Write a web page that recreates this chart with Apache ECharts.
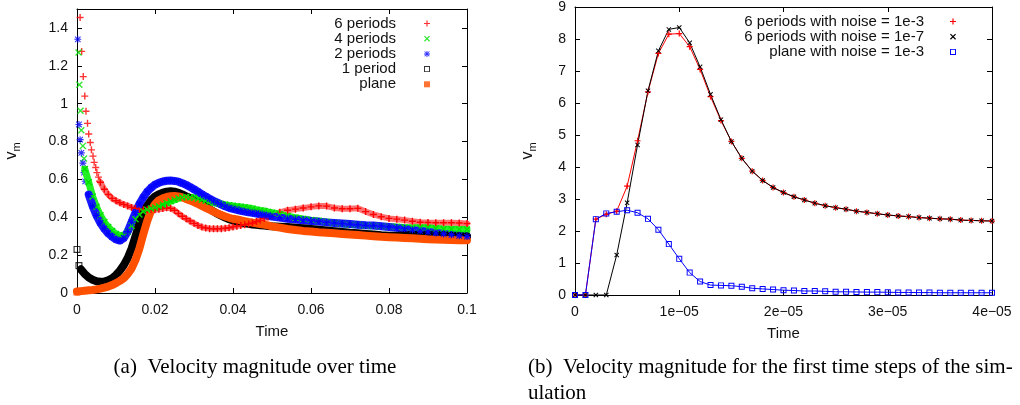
<!DOCTYPE html>
<html>
<head>
<meta charset="utf-8">
<script src="https://cdn.jsdelivr.net/npm/echarts@6/dist/echarts.min.js"></script>
<style>
html,body{margin:0;padding:0;background:#fff;}
#chart{width:1020px;height:405px;}
</style>
</head>
<body>
<div id="chart"></div>
<script>
// ---------- (a) Velocity magnitude over time ----------
const timeA = [0,0.001,0.002,0.003,0.004,0.005,0.006,0.007,0.008,0.009,0.01,0.011,0.012,0.013,0.014,0.015,0.016,0.017,0.018,0.019,0.02,0.021,0.022,0.023,0.024,0.025,0.026,0.027,0.028,0.029,0.03,0.031,0.032,0.033,0.034,0.035,0.036,0.037,0.038,0.039,0.04,0.041,0.042,0.043,0.044,0.045,0.046,0.047,0.048,0.049,0.05,0.052,0.054,0.056,0.058,0.06,0.062,0.064,0.066,0.068,0.07,0.072,0.074,0.076,0.078,0.08,0.082,0.084,0.086,0.088,0.09,0.092,0.094,0.096,0.098,0.1];

const p6Band = [null,null,null,null,null,null,0.585,0.548,0.52,0.5,0.487,0.477,0.468,0.46,0.452,0.447,0.443,0.44,0.44,0.44,0.44,0.442,0.446,0.45,0.447,0.437,0.42,0.405,0.392,0.38,0.368,0.357,0.348,0.343,0.34,0.339,0.339,0.34,0.342,0.345,0.349,0.353,0.357,0.361,0.365,0.37,0.377,0.385,0.394,0.402,0.41,0.426,0.437,0.443,0.449,0.455,0.46,0.459,0.449,0.445,0.445,0.447,0.43,0.415,0.403,0.394,0.39,0.385,0.379,0.374,0.372,0.371,0.371,0.371,0.37,0.367];
const p4Band = [null,null,0.655,0.585,0.51,0.455,0.41,0.375,0.348,0.328,0.312,0.302,0.305,0.323,0.355,0.39,0.415,0.43,0.44,0.446,0.452,0.458,0.466,0.475,0.485,0.492,0.5,0.505,0.507,0.506,0.503,0.498,0.492,0.487,0.482,0.478,0.474,0.47,0.466,0.463,0.46,0.457,0.455,0.452,0.449,0.445,0.44,0.436,0.433,0.428,0.424,0.416,0.405,0.398,0.391,0.385,0.38,0.375,0.37,0.366,0.362,0.36,0.357,0.355,0.352,0.35,0.348,0.346,0.345,0.345,0.344,0.341,0.338,0.337,0.336,0.335];
const p2Band = [null,null,null,0.52,0.46,0.41,0.37,0.34,0.315,0.297,0.283,0.277,0.29,0.325,0.375,0.425,0.47,0.505,0.535,0.556,0.572,0.582,0.589,0.593,0.594,0.592,0.588,0.58,0.571,0.56,0.548,0.535,0.522,0.51,0.498,0.487,0.477,0.467,0.458,0.45,0.444,0.439,0.434,0.43,0.426,0.423,0.42,0.416,0.412,0.408,0.404,0.398,0.392,0.388,0.384,0.38,0.377,0.373,0.37,0.367,0.364,0.361,0.358,0.356,0.353,0.349,0.344,0.339,0.333,0.327,0.322,0.317,0.312,0.307,0.302,0.298];
const p1Band = [null,0.125,0.1,0.082,0.07,0.062,0.059,0.06,0.067,0.078,0.095,0.118,0.147,0.185,0.235,0.3,0.365,0.42,0.46,0.49,0.51,0.522,0.53,0.535,0.537,0.535,0.529,0.521,0.511,0.5,0.489,0.478,0.467,0.455,0.443,0.431,0.419,0.408,0.398,0.39,0.383,0.378,0.373,0.369,0.365,0.362,0.36,0.358,0.356,0.354,0.352,0.35,0.348,0.345,0.342,0.338,0.334,0.33,0.326,0.322,0.318,0.315,0.312,0.309,0.305,0.303,0.303,0.305,0.307,0.308,0.308,0.307,0.305,0.303,0.3,0.298];
const planeBand = [0.008,0.01,0.012,0.014,0.016,0.019,0.023,0.028,0.034,0.042,0.052,0.064,0.078,0.1,0.13,0.175,0.235,0.31,0.38,0.435,0.47,0.49,0.5,0.507,0.511,0.512,0.51,0.505,0.497,0.489,0.48,0.47,0.46,0.45,0.44,0.43,0.421,0.412,0.404,0.397,0.392,0.388,0.384,0.379,0.375,0.372,0.368,0.364,0.361,0.357,0.352,0.345,0.338,0.333,0.328,0.325,0.321,0.318,0.315,0.312,0.309,0.306,0.303,0.3,0.297,0.295,0.293,0.291,0.289,0.287,0.284,0.282,0.281,0.28,0.279,0.279];

// first (well separated) samples: [time, value]
const p6Early = [[0.0008,1.455],[0.0012,1.276],[0.0016,1.143],[0.002,1.04],[0.0023,0.96],[0.0027,0.896],[0.003,0.84],[0.0034,0.795],[0.0037,0.756],[0.0041,0.723],[0.0044,0.69],[0.0048,0.663],[0.0051,0.636],[0.0055,0.612],[0.0058,0.59]];
const p4Early = [[0.0004,1.27],[0.0006,1.10],[0.0009,0.963],[0.0011,0.86],[0.0015,0.777],[0.0018,0.71]];
const p2Early = [[0.0002,1.34],[0.0005,0.89],[0.0008,0.81],[0.0011,0.74],[0.0015,0.686],[0.0018,0.636],[0.0021,0.59]];
const p1Early = [[0,0.23],[0.0005,0.145]];
const planeEarly = [[0,0.005]];

// ---------- (b) first time steps ----------
const timeB = [0,1e-6,2e-6,3e-6,4e-6,5e-6,6e-6,7e-6,8e-6,9e-6,10e-6,11e-6,12e-6,13e-6,14e-6,15e-6,16e-6,17e-6,18e-6,19e-6,20e-6,21e-6,22e-6,23e-6,24e-6,25e-6,26e-6,27e-6,28e-6,29e-6,30e-6,31e-6,32e-6,33e-6,34e-6,35e-6,36e-6,37e-6,38e-6,39e-6,40e-6];
const noise3 = [0,0,2.37,2.52,2.62,3.4,4.82,6.35,7.55,8.15,8.17,7.76,7.05,6.2,5.45,4.8,4.27,3.87,3.58,3.36,3.2,3.07,2.97,2.87,2.79,2.73,2.68,2.62,2.58,2.54,2.5,2.47,2.45,2.42,2.4,2.38,2.37,2.34,2.33,2.32,2.31];
const noise7 = [0,0,0,0,1.25,2.88,4.69,6.38,7.63,8.3,8.36,7.88,7.13,6.27,5.48,4.8,4.27,3.87,3.58,3.36,3.2,3.07,2.97,2.87,2.79,2.73,2.68,2.62,2.58,2.54,2.5,2.47,2.45,2.42,2.4,2.38,2.37,2.34,2.33,2.32,2.31];
const planeNoise3 = [0,0,2.37,2.55,2.6,2.65,2.57,2.38,2.04,1.59,1.13,0.7,0.42,0.31,0.3,0.29,0.26,0.21,0.19,0.17,0.15,0.14,0.125,0.125,0.115,0.1,0.1,0.095,0.09,0.09,0.085,0.08,0.08,0.075,0.075,0.07,0.07,0.07,0.07,0.07,0.07];

const namesA = ['6 periods','4 periods','2 periods','1 period','plane'];
const namesB = ['6 periods with noise = 1e-3','6 periods with noise = 1e-7','plane with noise = 1e-3'];
const ticksA_y = ['0','0.2','0.4','0.6','0.8','1','1.2','1.4'];
const captionA = '(a)  Velocity magnitude over time';
const captionB1 = '(b)  Velocity magnitude for the first time steps of the sim-';
const captionB2 = 'ulation';

// ---------- styling helpers ----------
const PLUS = 'path://M0,4L10,4L10,6L0,6Z M4,0L6,0L6,10L4,10Z';
const CROSS = 'path://M0,1.4L1.4,0L10,8.6L8.6,10Z M8.6,0L10,1.4L1.4,10L0,8.6Z';
const STAR = 'path://M0,4.2L10,4.2L10,5.8L0,5.8Z M4.2,0L5.8,0L5.8,10L4.2,10Z M0.5,1.6L1.6,0.5L9.5,8.4L8.4,9.5Z M8.4,0.5L9.5,1.6L1.6,9.5L0.5,8.4Z';
const OSQ = 'path://M0,0L10,0L10,10L0,10Z M1.6,1.6L1.6,8.4L8.4,8.4L8.4,1.6Z';
const FSQ = 'path://M0,0L10,0L10,10L0,10Z';

const colRed = '#ff0000', colGreen = '#00e000', colBlue = '#0000ff', colBlack = '#000000', colOrange = '#ff5000';

const pair = (ts, vs) => ts.map((t, i) => [t, vs[i]]);
const font = '"Liberation Sans", Arial, Helvetica, sans-serif';
const serif = '"Liberation Serif", "Times New Roman", serif';

function frameAxes(gridIndex, min, max, interval, isX, pos, labelFmt, nameTxt, nameGap) {
  return {
    type: 'value', gridIndex, min, max, interval, position: pos,
    axisLine: { show: true, onZero: false, lineStyle: { color: '#000', width: 1 } },
    axisTick: { show: true, inside: true, length: 5, lineStyle: { color: '#000' } },
    splitLine: { show: false },
    axisLabel: labelFmt ? { show: true, fontFamily: font, fontSize: 14, color: '#111', margin: isX ? 10 : 9, formatter: labelFmt, showMaxLabel: true } : { show: false },
    name: nameTxt || '', nameLocation: 'middle', nameGap: nameGap || 0,
    nameTextStyle: isX ? { fontFamily: font, fontSize: 15, color: '#111' } : {
      fontFamily: font, color: '#111',
      rich: { v: { fontFamily: font, fontSize: 16, lineHeight: 20, verticalAlign: 'middle', color: '#111' },
              m: { fontFamily: font, fontSize: 11, lineHeight: 20, verticalAlign: 'bottom', color: '#111' } }
    }
  };
}

const fmtA_x = v => String(+v.toFixed(3));
const fmtA_y = v => { const k = Math.round(v / 0.2); return Math.abs(v - k * 0.2) < 1e-9 && k < ticksA_y.length ? ticksA_y[k] : ''; };
const fmtB_x = v => { if (Math.abs(v) < 1e-12) return '0'; const k = Math.round(v / 1e-5); return k + 'e\u221205'; };
const fmtB_y = v => String(Math.round(v));

const option = {
  animation: false,
  backgroundColor: '#fff',
  grid: [
    { left: 77, top: 9, width: 390, height: 284, containLabel: false },
    { left: 575, top: 7, width: 417, height: 288, containLabel: false }
  ],
  xAxis: [
    frameAxes(0, 0, 0.1, 0.02, true, 'bottom', fmtA_x, 'Time', 31),
    frameAxes(0, 0, 0.1, 0.02, true, 'top', null),
    frameAxes(1, 0, 4e-5, 1e-5, true, 'bottom', fmtB_x, 'Time', 31),
    frameAxes(1, 0, 4e-5, 1e-5, true, 'top', null)
  ],
  yAxis: [
    frameAxes(0, 0, 1.5, 0.2, false, 'left', fmtA_y, '{v|v}{m|m}', 55),
    frameAxes(0, 0, 1.5, 0.2, false, 'right', null),
    frameAxes(1, 0, 9, 1, false, 'left', fmtB_y, '{v|v}{m|m}', 37),
    frameAxes(1, 0, 9, 1, false, 'right', null)
  ],
  legend: [
    {
      orient: 'vertical', align: 'right', right: 590, top: 16, padding: 0,
      itemWidth: 52, itemHeight: 6, itemGap: 0.2, symbolKeepAspect: true, selectedMode: false,
      textStyle: { fontFamily: font, fontSize: 15, color: '#111', lineHeight: 15 },
      data: [
        { name: namesA[0], icon: PLUS },
        { name: namesA[1], icon: CROSS },
        { name: namesA[2], icon: STAR },
        { name: namesA[3], icon: OSQ },
        { name: namesA[4], icon: FSQ }
      ]
    },
    {
      orient: 'vertical', align: 'right', right: 64, top: 14, padding: 0,
      itemWidth: 48, itemHeight: 6, itemGap: 0.2, symbolKeepAspect: true, selectedMode: false,
      textStyle: { fontFamily: font, fontSize: 15, color: '#111', lineHeight: 15 },
      data: [
        { name: namesB[0], icon: PLUS },
        { name: namesB[1], icon: CROSS },
        { name: namesB[2], icon: OSQ }
      ]
    }
  ],
  series: [
    // 6 periods
    { name: namesA[0], type: 'scatter', xAxisIndex: 0, yAxisIndex: 0, data: p6Early, symbol: PLUS, symbolSize: 7, itemStyle: { color: colRed }, silent: true },
    { name: namesA[0], type: 'line', xAxisIndex: 0, yAxisIndex: 0, data: pair(timeA, p6Band), showSymbol: true, showAllSymbol: true, symbol: PLUS, symbolSize: 7,
      itemStyle: { color: colRed }, lineStyle: { color: '#ff7070', width: 6, cap: 'round', join: 'round' }, silent: true },
    // 4 periods
    { name: namesA[1], type: 'scatter', xAxisIndex: 0, yAxisIndex: 0, data: p4Early, symbol: CROSS, symbolSize: 7, itemStyle: { color: colGreen }, silent: true },
    { name: namesA[1], type: 'line', xAxisIndex: 0, yAxisIndex: 0, data: pair(timeA, p4Band), showSymbol: true, showAllSymbol: true, symbol: CROSS, symbolSize: 7,
      itemStyle: { color: colGreen }, lineStyle: { color: '#22f022', width: 7, cap: 'round', join: 'round' }, silent: true },
    // 2 periods
    { name: namesA[2], type: 'scatter', xAxisIndex: 0, yAxisIndex: 0, data: p2Early, symbol: STAR, symbolSize: 7, itemStyle: { color: colBlue }, silent: true },
    { name: namesA[2], type: 'line', xAxisIndex: 0, yAxisIndex: 0, data: pair(timeA, p2Band), showSymbol: true, showAllSymbol: true, symbol: STAR, symbolSize: 7,
      itemStyle: { color: colBlue }, lineStyle: { color: '#1a1aff', width: 8, cap: 'round', join: 'round' }, silent: true },
    // 1 period
    { name: namesA[3], type: 'scatter', xAxisIndex: 0, yAxisIndex: 0, data: p1Early, symbol: OSQ, symbolSize: 7, itemStyle: { color: colBlack }, silent: true },
    { name: namesA[3], type: 'line', xAxisIndex: 0, yAxisIndex: 0, data: pair(timeA, p1Band), showSymbol: false,
      itemStyle: { color: colBlack }, lineStyle: { color: '#000', width: 8, cap: 'round', join: 'round' }, silent: true },
    // plane
    { name: namesA[4], type: 'scatter', xAxisIndex: 0, yAxisIndex: 0, data: planeEarly, symbol: FSQ, symbolSize: 7, itemStyle: { color: colOrange }, silent: true },
    { name: namesA[4], type: 'line', xAxisIndex: 0, yAxisIndex: 0, data: pair(timeA, planeBand), showSymbol: false,
      itemStyle: { color: colOrange }, lineStyle: { color: colOrange, width: 8, cap: 'round', join: 'round' }, silent: true },

    // (b)
    { name: namesB[0], type: 'line', xAxisIndex: 2, yAxisIndex: 2, data: pair(timeB, noise3), showSymbol: true, showAllSymbol: true,
      symbol: PLUS, symbolSize: 6, itemStyle: { color: colRed }, lineStyle: { color: colRed, width: 1 }, silent: true },
    { name: namesB[1], type: 'line', xAxisIndex: 2, yAxisIndex: 2, data: pair(timeB, noise7), showSymbol: true, showAllSymbol: true,
      symbol: CROSS, symbolSize: 5, itemStyle: { color: colBlack }, lineStyle: { color: '#000', width: 1 }, silent: true },
    { name: namesB[2], type: 'line', xAxisIndex: 2, yAxisIndex: 2, data: pair(timeB, planeNoise3), showSymbol: true, showAllSymbol: true,
      symbol: OSQ, symbolSize: 6, itemStyle: { color: colBlue }, lineStyle: { color: colBlue, width: 1 }, silent: true }
  ],
  graphic: [
    { type: 'text', x: 255, y: 367, style: { text: captionA, font: '21px ' + serif, fill: '#000', align: 'center', verticalAlign: 'middle' } },
    { type: 'text', x: 528, y: 367, style: { text: captionB1, font: '21px ' + serif, fill: '#000', align: 'left', verticalAlign: 'middle' } },
    { type: 'text', x: 528, y: 393, style: { text: captionB2, font: '21px ' + serif, fill: '#000', align: 'left', verticalAlign: 'middle' } }
  ]
};

const chart = echarts.init(document.getElementById('chart'), null, { renderer: 'canvas' });
chart.setOption(option);
</script>
</body>
</html>
